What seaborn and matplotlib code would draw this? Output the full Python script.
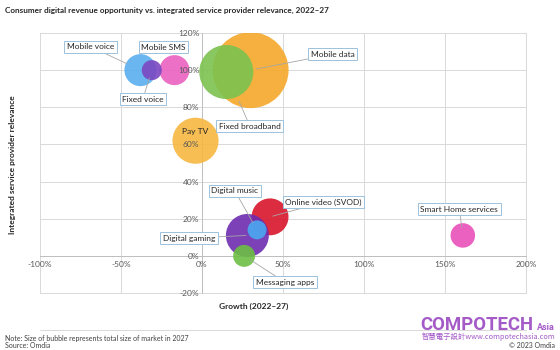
import pandas as pd
import matplotlib
matplotlib.use("Agg")
import matplotlib.pyplot as plt
from matplotlib.ticker import FuncFormatter, MultipleLocator
import seaborn as sns

# Data
services = ["Mobile data", "Fixed broadband", "Mobile voice", "Mobile SMS", "Fixed voice",
            "Pay TV", "Online video (SVOD)", "Digital gaming", "Digital music",
            "Messaging apps", "Smart Home services"]
growth = [30, 15, -38, -17, -31, -4, 42, 28, 34, 26, 161]          # % growth 2022-27
relevance = [100, 99, 100, 100, 100, 62, 21, 11, 14, 0, 11]        # % relevance
market_size = [1440, 730, 256, 225, 100, 530, 340, 460, 90, 120, 150]  # relative size 2027
colors = ["#F5A82A", "#7CC24F", "#5AAEF0", "#EA62C0", "#7B48C2",
          "#F5B740", "#D9162B", "#6E2BB0", "#4AA9F2", "#6CBF44", "#E850B8"]

# label placement: offset (points) from bubble, line shrink (points)
label_pos = {
    "Mobile data": (59, 11.5, 4),
    "Fixed broadband": (17, -39, 23),
    "Mobile voice": (-36, 17, 11),
    "Mobile SMS": (-8, 16.5, None),
    "Fixed voice": (-6.5, -21, 6),
    "Online video (SVOD)": (38.5, 10.5, 2),
    "Digital gaming": (-42, -2, 1),
    "Digital music": (-16, 28, 6),
    "Messaging apps": (29.5, -19, 5),
    "Smart Home services": (-2.5, 19, 6),
}

df = pd.DataFrame({"service": services, "growth": growth,
                   "relevance": relevance, "size": market_size})

sns.set_style("white")
plt.rcParams["font.family"] = ["Lato", "DejaVu Sans"]

fig = plt.figure(figsize=(5.6, 3.5), dpi=100)
ax = fig.add_axes([40 / 560, 57 / 350, 486 / 560, 260 / 350])

sns.scatterplot(data=df, x="growth", y="relevance", hue="service", size="size",
                hue_order=services, palette=dict(zip(services, colors)),
                sizes=(0, 2990), size_norm=(0, max(market_size)),
                alpha=0.9, linewidth=0, legend=False, ax=ax, zorder=3)

ax.set_xlim(-100, 200)
ax.set_ylim(-20, 120)
ax.xaxis.set_major_locator(MultipleLocator(50))
ax.yaxis.set_major_locator(MultipleLocator(20))
pct = FuncFormatter(lambda v, _: f"{v:.0f}%")
ax.xaxis.set_major_formatter(pct)
ax.yaxis.set_major_formatter(pct)

# gridlines kept under the bubbles, tick labels drawn on top of them
ax.grid(False)
for v in ax.get_xticks():
    ax.axvline(v, color="#D9D9D9", lw=0.7, zorder=0.5, clip_on=False)
for v in ax.get_yticks():
    ax.axhline(v, color="#D9D9D9", lw=0.7, zorder=0.5, clip_on=False)
ax.set_xlim(-100, 200)
ax.set_ylim(-20, 120)
ax.xaxis.set_zorder(4)
ax.yaxis.set_zorder(4)

ax.tick_params(length=0, labelsize=6, labelcolor="#595959")
ax.tick_params(axis="x", pad=4)
ax.tick_params(axis="y", pad=2)
ax.spines["left"].set_position(("data", 0))
ax.spines["bottom"].set_position(("data", 0))
for side in ["left", "bottom"]:
    ax.spines[side].set_color("#BFBFBF")
    ax.spines[side].set_linewidth(0.7)
    ax.spines[side].set_zorder(1)
for side in ["top", "right"]:
    ax.spines[side].set_visible(False)
ax.set_xlabel("")
ax.set_ylabel("")

# data labels
for name, x, y in zip(services, growth, relevance):
    if name == "Pay TV":
        ax.annotate(name, (x, y), xytext=(0, 6.5), textcoords="offset points",
                    ha="center", va="center", fontsize=6, color="#262626", zorder=5)
        continue
    dx, dy, shrink = label_pos[name]
    arrow = None
    if shrink is not None:
        arrow = dict(arrowstyle="-", color="#A6A6A6", lw=0.6, shrinkA=0, shrinkB=shrink)
    ax.annotate(name, (x, y), xytext=(dx, dy), textcoords="offset points",
                ha="center", va="center", fontsize=6, color="#262626",
                bbox=dict(boxstyle="square,pad=0.3", fc="white", ec="#9CC2DC", lw=0.7),
                arrowprops=arrow, zorder=5)

fig.text(5 / 560, 1 - 10 / 350,
         "Consumer digital revenue opportunity vs. integrated service provider relevance, 2022\u201327",
         fontsize=5.9, fontweight="bold", color="#262626", va="center", ha="left")
fig.text(254 / 560, 1 - 306 / 350, "Growth (2022\u201327)", fontsize=6, fontweight="bold",
         color="#262626", ha="center", va="center")
fig.text(13 / 560, 1 - 165 / 350, "Integrated service provider relevance", fontsize=6,
         fontweight="bold", color="#262626", rotation=90, ha="center", va="center")
fig.text(5 / 560, 1 - 338 / 350, "Note: Size of bubble represents total size of market in 2027",
         fontsize=5, color="#404040", va="center")
fig.text(5 / 560, 1 - 345 / 350, "Source: Omdia", fontsize=5, color="#404040", va="center")

# watermark
logo = "#A45BC8"
brand = fig.text(420 / 560, 1 - 330 / 350, "COMPOTECH", fontsize=17, fontweight="bold",
                 color=logo, va="baseline", ha="left", family=["Roboto", "DejaVu Sans"])
renderer = fig.canvas.get_renderer()
w = brand.get_window_extent(renderer).width
brand.set_fontsize(17 * 114 / w)
fig.text(555 / 560, 1 - 330 / 350, "Asia", fontsize=6.5, fontweight="bold", color=logo,
         va="baseline", ha="right", family=["Roboto", "DejaVu Sans"])
url = fig.text(555 / 560, 1 - 337 / 350, "智慧電子設計www.compotechasia.com", fontsize=6,
               color=logo, va="center", ha="right", family=["Noto Sans CJK TC", "DejaVu Sans"])
w = url.get_window_extent(renderer).width
url.set_fontsize(6 * 134 / w)
fig.text(555 / 560, 1 - 345 / 350, "\u00a9 2023 Omdia", fontsize=5, color="#404040",
         va="center", ha="right")

fig.savefig("out.png", dpi=100)
